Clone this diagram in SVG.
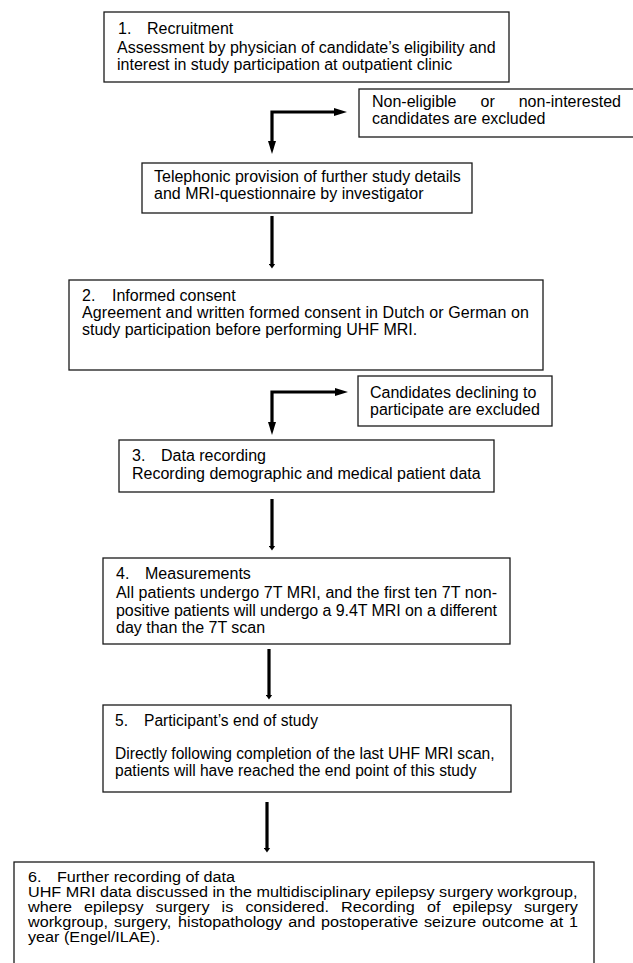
<svg xmlns="http://www.w3.org/2000/svg" width="633" height="963" viewBox="0 0 633 963">
  <style>
    .t { font-family: "Liberation Sans", Arial, sans-serif; font-size: 16px; fill: #000; }
    .t5 { font-family: "Liberation Sans", Arial, sans-serif; font-size: 15.6px; fill: #000; }
    .t6 { font-family: "Liberation Sans", Arial, sans-serif; font-size: 14.5px; fill: #000; }
    .box { fill: #fff; stroke: #1a1a1a; stroke-width: 1.3; }
    .conn { fill: none; stroke: #000; stroke-width: 3.2; }
    .elbow { marker-start: url(#headLong); marker-end: url(#headLong); }
    .straight { marker-end: url(#headShort); }
  </style>
  <defs>
    <marker id="headLong" markerUnits="userSpaceOnUse" markerWidth="14" markerHeight="9" refX="1" refY="4" orient="auto-start-reverse" viewBox="0 0 14 8">
      <path d="M0,0 L13,4 L0,8 z" fill="#000"/>
    </marker>
    <marker id="headShort" markerUnits="userSpaceOnUse" markerWidth="6" markerHeight="7" refX="0.5" refY="3.5" orient="auto" viewBox="0 0 6 7">
      <path d="M0,0 L5,3.5 L0,7 z" fill="#000"/>
    </marker>
  </defs>
  <rect width="633" height="963" fill="#fff"/>

  <g id="connectors">
    <path class="conn elbow" d="M272,142 V112 H335"/>
    <path class="conn straight" d="M272,216 V264"/>
    <path class="conn elbow" d="M272,423 V392 H336"/>
    <path class="conn straight" d="M272,499 V546"/>
    <path class="conn straight" d="M269,649 V695"/>
    <path class="conn straight" d="M267,802 V848"/>
  </g>

  <g id="recruitment">
    <rect class="box" x="104" y="12" width="405" height="70"/>
    <text class="t" y="34"><tspan x="118">1.</tspan><tspan x="147">Recruitment</tspan></text>
    <text class="t" x="117" y="53">Assessment by physician of candidate’s eligibility and</text>
    <text class="t" x="117" y="70">interest in study participation at outpatient clinic</text>
  </g>

  <g id="excluded-noneligible">
    <rect class="box" x="359" y="89" width="290" height="48"/>
    <text class="t" y="107"><tspan x="372">Non-eligible</tspan><tspan x="480.5">or</tspan><tspan x="518.7">non-interested</tspan></text>
    <text class="t" x="372" y="124">candidates are excluded</text>
  </g>

  <g id="telephonic">
    <rect class="box" x="142" y="163" width="330" height="50"/>
    <text class="t" x="154" y="182">Telephonic provision of further study details</text>
    <text class="t" x="154" y="199">and MRI-questionnaire by investigator</text>
  </g>

  <g id="informed-consent">
    <rect class="box" x="69" y="280" width="474" height="90"/>
    <text class="t" y="301"><tspan x="82">2.</tspan><tspan x="112">Informed consent</tspan></text>
    <text class="t" x="82" y="318" textLength="447" lengthAdjust="spacing">Agreement and written formed consent in Dutch or German on</text>
    <text class="t" x="82" y="335">study participation before performing UHF MRI.</text>
  </g>

  <g id="excluded-declining">
    <rect class="box" x="358" y="376" width="194" height="50"/>
    <text class="t" x="370" y="398">Candidates declining to</text>
    <text class="t" x="370" y="415">participate are excluded</text>
  </g>

  <g id="data-recording">
    <rect class="box" x="119" y="440" width="375" height="52"/>
    <text class="t" y="461"><tspan x="132">3.</tspan><tspan x="161">Data recording</tspan></text>
    <text class="t" x="132" y="479">Recording demographic and medical patient data</text>
  </g>

  <g id="measurements">
    <rect class="box" x="103" y="558" width="407" height="86"/>
    <text class="t" y="579"><tspan x="116">4.</tspan><tspan x="145">Measurements</tspan></text>
    <text class="t" x="116" y="598" textLength="381" lengthAdjust="spacing">All patients undergo 7T MRI, and the first ten 7T non-</text>
    <text class="t" x="116" y="616" textLength="381" lengthAdjust="spacing">positive patients will undergo a 9.4T MRI on a different</text>
    <text class="t" x="116" y="633">day than the 7T scan</text>
  </g>

  <g id="end-of-study">
    <rect class="box" x="103" y="705" width="408" height="87"/>
    <text class="t5" y="726"><tspan x="115">5.</tspan><tspan x="144">Participant’s end of study</tspan></text>
    <text class="t5" x="115" y="759">Directly following completion of the last UHF MRI scan,</text>
    <text class="t5" x="115" y="776">patients will have reached the end point of this study</text>
  </g>

  <g id="further-recording">
    <rect class="box" x="14" y="862" width="580" height="115"/>
    <g transform="scale(1.11724,1)">
      <text class="t6" y="882"><tspan x="25.06">6.</tspan><tspan x="51.02">Further recording of data</tspan></text>
      <text class="t6" x="25.06" y="897">UHF MRI data discussed in the multidisciplinary epilepsy surgery workgroup,</text>
      <text class="t6" y="912"><tspan x="25.06">where</tspan><tspan x="75.27">epilepsy</tspan><tspan x="139.28">surgery</tspan><tspan x="198.35">is</tspan><tspan x="219.65">considered.</tspan><tspan x="305.31">Recording</tspan><tspan x="382.19">of</tspan><tspan x="405.10">epilepsy</tspan><tspan x="469.01">surgery</tspan></text>
      <text class="t6" y="927"><tspan x="25.06">workgroup,</tspan><tspan x="101.95">surgery,</tspan><tspan x="159.41">histopathology</tspan><tspan x="258.05">and</tspan><tspan x="287.32">postoperative</tspan><tspan x="379.51">seizure</tspan><tspan x="431.33">outcome</tspan><tspan x="492.12">at</tspan><tspan x="509.30">1</tspan></text>
      <text class="t6" x="25.06" y="942">year (Engel/ILAE).</text>
    </g>
  </g>
</svg>
